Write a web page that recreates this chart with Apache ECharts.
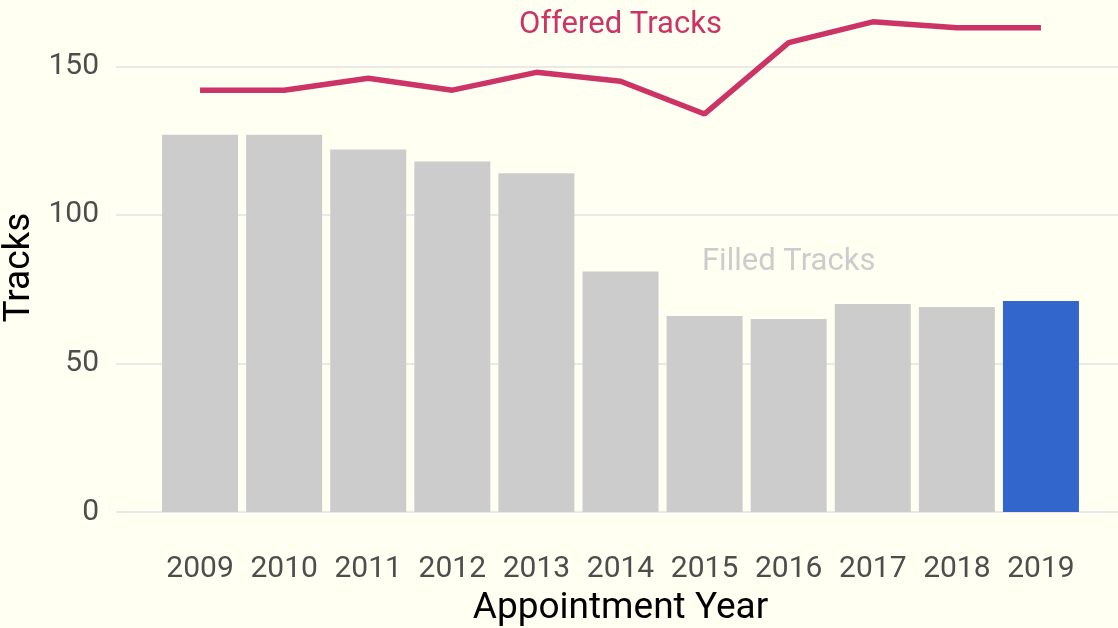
<!DOCTYPE html>
<html>
<head>
<meta charset="utf-8">
<script src="https://cdn.jsdelivr.net/npm/echarts@6/dist/echarts.min.js"></script>
<style>
  html, body { margin: 0; padding: 0; background: #fffff2; }
  #chart { width: 1118px; height: 628px; }
</style>
</head>
<body>
<div id="chart"></div>
<script>
// data
var years = ['2009', '2010', '2011', '2012', '2013', '2014', '2015', '2016', '2017', '2018', '2019'];
var filled = [127, 127, 122, 118, 114, 81, 66, 65, 70, 69, 71];
var offered = [142, 142, 146, 142, 148, 145, 134, 158, 165, 163, 163];
var highlightYear = '2019';
var yTicks = [0, 50, 100, 150];

var chart = echarts.init(document.getElementById('chart'));

var font = 'Roboto';
var gridTop = 7, gridBottom = 116;

var option = {
  backgroundColor: '#fffff2',
  animation: false,
  textStyle: { fontFamily: font },
  grid: [
    // grid 0: only for the y axis labels + gridlines (full width lines)
    { left: 116, right: 0, top: gridTop, bottom: gridBottom, outerBoundsMode: 'none', containLabel: false },
    // grid 1: bars and line
    { left: 158, right: 35, top: gridTop, bottom: gridBottom, outerBoundsMode: 'none', containLabel: false }
  ],
  xAxis: [
    { gridIndex: 0, type: 'value', show: false, min: 0, max: 1 },
    {
      gridIndex: 1,
      type: 'category',
      data: years,
      boundaryGap: true,
      axisLine: { show: false },
      axisTick: { show: false },
      axisLabel: { color: '#4d4d4d', fontSize: 30, fontFamily: font, margin: 42, interval: 0 },
      name: 'Appointment Year',
      nameLocation: 'middle',
      nameGap: 78,
      nameMoveOverlap: false,
      nameTextStyle: { color: '#000000', fontSize: 37, fontFamily: font }
    }
  ],
  yAxis: [
    {
      gridIndex: 0,
      type: 'value',
      min: 0,
      max: 170,
      interval: 50,
      axisLine: { show: false },
      axisTick: { show: false },
      axisLabel: {
        color: '#4d4d4d', fontSize: 30, fontFamily: font, margin: 17,
        showMaxLabel: false,
        formatter: function (v) { return yTicks.indexOf(v) >= 0 ? String(v) : ''; }
      },
      splitLine: { show: true, showMaxLine: false, lineStyle: { color: '#e9e9e9', width: 2 } },
      name: 'Tracks',
      nameLocation: 'middle',
      nameGap: 78,
      nameMoveOverlap: false,
      nameTextStyle: { color: '#000000', fontSize: 37, fontFamily: font, padding: [0, 16, 0, 0] }
    },
    {
      gridIndex: 1,
      type: 'value',
      min: 0,
      max: 170,
      show: false,
      splitLine: { show: false }
    }
  ],
  series: [
    {
      name: 'Filled Tracks',
      type: 'bar',
      xAxisIndex: 1,
      yAxisIndex: 1,
      barWidth: 76,
      data: filled.map(function (v, i) {
        return { value: v, itemStyle: { color: years[i] === highlightYear ? '#3366cc' : '#cccccc' } };
      }),
      markPoint: {
        symbol: 'circle',
        symbolSize: 1,
        itemStyle: { color: 'rgba(0,0,0,0)' },
        label: { show: true, position: 'inside', formatter: 'Filled Tracks', color: '#cccccc', fontSize: 31, fontFamily: font },
        data: [{ coord: ['2016', 84] }]
      }
    },
    {
      name: 'Offered Tracks',
      type: 'line',
      xAxisIndex: 1,
      yAxisIndex: 1,
      data: offered,
      symbol: 'none',
      lineStyle: { color: '#cc3366', width: 5.5 },
      clip: false,
      markPoint: {
        symbol: 'circle',
        symbolSize: 1,
        itemStyle: { color: 'rgba(0,0,0,0)' },
        label: { show: true, position: 'inside', formatter: 'Offered Tracks', color: '#cc3366', fontSize: 31, fontFamily: font },
        data: [{ coord: ['2014', 163.7] }]
      }
    }
  ]
};

chart.setOption(option);
</script>
</body>
</html>
